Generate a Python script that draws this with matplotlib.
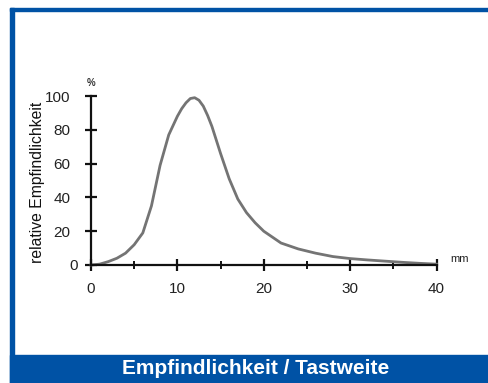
import matplotlib
matplotlib.use("Agg")
import matplotlib.pyplot as plt
import matplotlib.transforms as mtransforms
from matplotlib.patches import Rectangle

plt.rcParams['font.family'] = ['Liberation Sans', 'DejaVu Sans']

# ── Curve (distance in mm, relative sensitivity in %) ──
distance_mm = [0, 1, 2, 3, 4, 5, 6, 7, 8, 9, 10, 10.5, 11, 11.5, 12, 12.5,
               13, 13.5, 14, 15, 16, 17, 18, 19, 20, 22, 24, 26, 28, 30,
               32, 34, 36, 38, 40]
sensitivity = [0, 0.5, 2, 4, 7, 12, 19, 35, 59, 77, 88, 92.5, 96, 98.5, 99,
               97.5, 94, 88.5, 82, 66, 51, 39, 31, 25, 20, 13, 9.5, 7, 5,
               3.8, 3, 2.3, 1.6, 1, 0.5]

x_major = [0, 10, 20, 30, 40]
x_minor = [5, 15, 25, 35]
y_major = [0, 20, 40, 60, 80, 100]

title = "Empfindlichkeit / Tastweite"
ylabel = "relative Empfindlichkeit"

BLUE = "#0052a5"

fig = plt.figure(figsize=(4.89, 3.83), dpi=100)
W, H = 489, 383

# frame: top rule, left rule, bottom title band
fig.patches.append(Rectangle((10 / W, 1 - 11 / H), 1, 3 / H,
                             transform=fig.transFigure, color=BLUE, zorder=0))
fig.patches.append(Rectangle((10 / W, 0), 3.5 / W, 1 - 8 / H,
                             transform=fig.transFigure, color=BLUE, zorder=0))
fig.patches.append(Rectangle((10 / W, 0), 1, 28 / H,
                             transform=fig.transFigure, color=BLUE, zorder=0))
fig.text(256 / W, 15 / H, title, color="white", fontsize=15, fontweight="bold",
         ha="center", va="center")

ax = fig.add_axes([91 / W, 1 - 265 / H, 345.5 / W, 169 / H])
ax.plot(distance_mm, sensitivity, color="#747474", lw=2, clip_on=False,
        solid_joinstyle="round")

ax.set_xlim(0, 40)
ax.set_ylim(0, 100)
for s in ("top", "right"):
    ax.spines[s].set_visible(False)
for s in ("left", "bottom"):
    ax.spines[s].set_linewidth(1.6)
    ax.spines[s].set_color("#111111")

ax.set_xticks(x_major)
ax.set_xticks(x_minor, minor=True)
ax.set_yticks(y_major)
ax.tick_params(axis="both", which="major", direction="inout", length=8,
               width=1.6, color="#111111", labelsize=11, labelcolor="#222222")
ax.tick_params(axis="x", which="minor", direction="inout", length=6,
               width=1.4, color="#111111")
ax.tick_params(axis="x", pad=8)
ax.tick_params(axis="y", pad=11)

# the "0" on the y axis sits closer to the axis in the original
lbl0 = ax.get_yticklabels()[0]
lbl0.set_transform(lbl0.get_transform() +
                   mtransforms.ScaledTranslation(8 / 100, 0, fig.dpi_scale_trans))

fig.text(37.5 / W, 1 - 182 / H, ylabel, rotation=90, fontsize=11.3,
         color="#111111", ha="center", va="center")

fig.text(91 / W, 1 - 83 / H, "%", fontsize=7, fontweight="bold",
         color="#333333", ha="center", va="center")
fig.text(460 / W, 1 - 259 / H, "mm", fontsize=8, color="#222222",
         ha="center", va="center")

fig.savefig("out.png", dpi=100)
